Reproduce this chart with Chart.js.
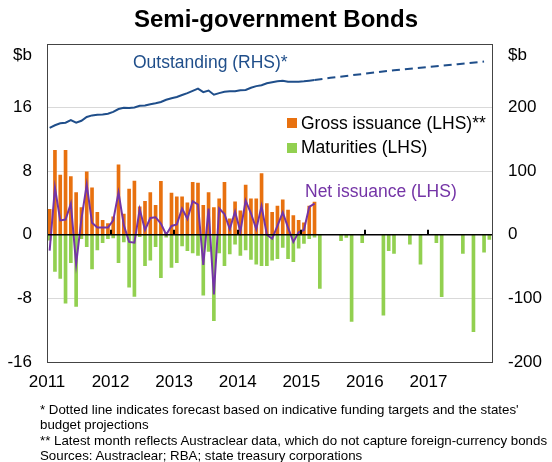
<!DOCTYPE html>
<html>
<head>
<meta charset="utf-8">
<script src="https://cdn.jsdelivr.net/npm/chart.js@4.4.1/dist/chart.umd.min.js"></script>
<style>
  html, body { margin: 0; padding: 0; background: #fff; }
  #wrap { position: relative; width: 552px; height: 462px; }
  #notes {
    position: absolute; left: 40px; top: 402px;
    font: 13.3px "Liberation Sans", Arial, sans-serif;
    line-height: 15.3px; color: #000; white-space: nowrap;
  }
</style>
</head>
<body>
<div id="wrap">
  <canvas id="bondsChart" width="552" height="462"></canvas>
  <div id="notes">
    * Dotted line indicates forecast based on indicative funding targets and the states'<br>
    budget projections<br>
    ** Latest month reflects Austraclear data, which do not capture foreign-currency bonds<br>
    Sources: Austraclear; RBA; state treasury corporations
  </div>
</div>
<script>
// monthly series, first value = Jan 2011
const years = ["2011", "2012", "2013", "2014", "2015", "2016", "2017"];

// gross issuance, $b (LHS), Jan 2011 - Mar 2015
const gross = [
  3.2, 10.6, 7.5, 10.6, 7.3, 5.3, 3.4, 7.9, 5.9, 2.8, 1.8, 1.4,
  2.25, 8.8, 2.6, 5.75, 6.75, 3.5, 4.2, 5.3, 3.7, 6.7, 0.3, 5.25,
  4.75, 4.75, 4.0, 6.6, 6.5, 3.7, 5.3, 3.4, 4.5, 6.6, 2.0, 4.15,
  3.0, 6.25, 4.5, 4.5, 7.7, 3.9, 2.8, 3.6, 4.4, 3.1, 2.4, 1.8,
  1.5, 3.6, 4.1
];

// maturities, $b (LHS), Jan 2011 - Dec 2017
const maturities = [
  -0.7, -4.6, -5.5, -8.6, -3.5, -9.0, -0.5, -1.5, -4.3, -1.9, -1.0, -0.5,
  -0.4, -3.5, -0.9, -6.6, -7.75, -0.25, -3.9, -3.2, -1.5, -5.4, -0.3, -4.1,
  -3.5, -1.4, -2.0, -2.3, -2.6, -7.6, -2.1, -10.8, -2.3, -3.9, -2.4, -1.2,
  -2.6, -1.9, -3.1, -3.7, -3.9, -3.9, -3.2, -3.0, -1.6, -3.0, -3.4, -1.7,
  -1.1, -0.5, -0.3, -6.75, 0, 0, 0, -0.75, -0.35, -10.9, 0, -1.0,
  0, 0, 0, -10.1, -2.0, -2.35, 0, 0, -1.2, 0, -3.7, 0,
  0, -1.0, -7.8, 0, 0, 0, -2.35, 0, -12.2, 0, -2.2, -0.6
];

// net issuance, $b (LHS)
const net = [
  -2.0, 5.9, 1.8, 1.9, 3.9, -3.7, 2.0, 6.3, 1.5, 0.9, 0.9, 0.9,
  1.8, 5.3, 1.2, -0.9, -1.0, 3.2, 0.6, 2.1, 2.2, 1.4, 0, 1.1,
  1.3, 3.3, 2.0, 4.2, 3.8, -3.8, 3.3, -7.5, 3.3, 2.6, 0.7, 2.9,
  0.4, 4.3, 2.7, 0.7, 3.6, 0, -0.5, 1.1, 2.8, 0.9, -0.9, 0.3,
  0.6, 3.5, 3.9
];

// outstanding, $b (RHS)
const outstanding = [
  168, 172, 175, 176, 180, 176, 179, 185, 187.5, 188.5, 189, 190,
  193, 197.5, 199.5, 199, 200, 202.5, 203, 205, 206.5, 208.5, 212, 214.5,
  216.5, 219.5, 222.5, 226, 229.5, 224, 226.5, 220, 222.5, 224.5, 225.5, 225.5,
  227, 227.5, 231, 233.5, 235, 238, 239.5, 241, 242, 240.5, 240.5, 240.5,
  241, 242, 243
];

// forecast of outstanding, $b (RHS)
const forecastMonths = ["2015-03", "2015-06", "2016-06", "2017-06", "2017-11"];
const forecast = [243, 246.5, 258.5, 268, 272];

const ORANGE = "#E8710F";
const GREEN = "#92D050";
const PURPLE = "#7434A6";
const NAVY = "#1F4E8A";
const FONT = "'Liberation Sans', Arial, sans-serif";

const monthIndex = (s) => {
  const [y, m] = s.split("-").map(Number);
  return (y - 2011) * 12 + (m - 1);
};
const monthly = (arr) => arr.map((v, i) => ({ x: i + 0.5, y: v }));

const overlay = {
  id: "overlay",
  afterDatasetsDraw(chart) {
    const { ctx, chartArea: a, scales } = chart;
    const y0 = scales.y.getPixelForValue(0);
    ctx.save();
    // zero line with year marks
    ctx.strokeStyle = "#000";
    ctx.lineWidth = 1.5;
    ctx.beginPath();
    ctx.moveTo(a.left, y0);
    ctx.lineTo(a.right, y0);
    ctx.stroke();
    ctx.lineWidth = 2;
    ctx.beginPath();
    for (let m = 12; m < 84; m += 12) {
      const x = Math.round(scales.x.getPixelForValue(m));
      ctx.moveTo(x, y0);
      ctx.lineTo(x, y0 - 5);
    }
    ctx.stroke();
    // frame
    ctx.strokeStyle = "#444";
    ctx.lineWidth = 1;
    ctx.strokeRect(Math.round(a.left) + 0.5, Math.round(a.top) + 0.5,
      Math.round(a.right - a.left), Math.round(a.bottom - a.top));
    ctx.restore();
  },
  afterDraw(chart) {
    const { ctx, chartArea: a } = chart;
    ctx.save();
    ctx.textBaseline = "middle";
    ctx.font = "17px " + FONT;
    ctx.fillStyle = "#000";
    ctx.textAlign = "right";
    ctx.fillText("$b", a.left - 15, 55);
    ctx.textAlign = "left";
    ctx.fillText("$b", a.right + 16, 55);

    ctx.font = "17.5px " + FONT;
    ctx.fillStyle = NAVY;
    ctx.fillText("Outstanding (RHS)*", 133, 63);
    ctx.fillStyle = PURPLE;
    ctx.fillText("Net issuance (LHS)", 305, 192);

    ctx.fillStyle = ORANGE;
    ctx.fillRect(287, 118, 10, 10);
    ctx.fillStyle = GREEN;
    ctx.fillRect(287, 143, 10, 10);
    ctx.fillStyle = "#000";
    ctx.fillText("Gross issuance (LHS)**", 301, 124);
    ctx.fillText("Maturities (LHS)", 301, 148);
    ctx.restore();
  }
};

new Chart(document.getElementById("bondsChart"), {
  type: "bar",
  data: {
    datasets: [
      {
        type: "line",
        label: "Outstanding",
        data: monthly(outstanding),
        yAxisID: "y2",
        borderColor: NAVY,
        borderWidth: 2,
        pointRadius: 0,
        tension: 0,
        order: 0,
      },
      {
        type: "line",
        label: "Outstanding forecast",
        data: forecastMonths.map((m, i) => ({ x: monthIndex(m) + 0.5, y: forecast[i] })),
        yAxisID: "y2",
        borderColor: NAVY,
        borderWidth: 2,
        borderDash: [8, 5],
        pointRadius: 0,
        tension: 0,
        order: 0,
      },
      {
        type: "line",
        label: "Net issuance",
        data: monthly(net),
        yAxisID: "y",
        borderColor: PURPLE,
        borderWidth: 2,
        pointRadius: 0,
        tension: 0,
        order: 0,
      },
      {
        label: "Gross issuance",
        data: monthly(gross),
        yAxisID: "y",
        backgroundColor: ORANGE,
        barThickness: 3,
        grouped: false,
        order: 1,
      },
      {
        label: "Maturities",
        data: monthly(maturities).filter((p) => p.y !== 0),
        yAxisID: "y",
        backgroundColor: GREEN,
        barThickness: 3,
        grouped: false,
        order: 1,
      },
    ],
  },
  options: {
    responsive: false,
    animation: false,
    layout: { padding: 0 },
    plugins: {
      legend: { display: false },
      tooltip: { enabled: false },
      title: {
        display: true,
        text: "Semi-government Bonds",
        color: "#000",
        font: { family: FONT, size: 24, weight: "bold" },
        padding: { top: 6, bottom: 9 },
      },
    },
    scales: {
      x: {
        type: "linear",
        min: 0,
        max: 84,
        offset: false,
        grid: { display: false, drawTicks: false },
        border: { display: false },
        afterBuildTicks: (s) => {
          s.ticks = years.map((_, i) => ({ value: i * 12 }));
        },
        ticks: {
          callback: (v) => years[v / 12],
          color: "#000",
          font: { family: FONT, size: 17 },
          padding: 10,
          maxRotation: 0,
          autoSkip: false,
        },
        afterFit: (s) => { s.height = 100; },
      },
      y: {
        position: "left",
        min: -16,
        max: 24,
        grid: {
          drawTicks: false,
          lineWidth: 1,
          color: (c) => ([16, 8, -8].includes(c.tick.value) ? "#d9d9d9" : "rgba(0,0,0,0)"),
        },
        border: { display: false },
        ticks: {
          stepSize: 8,
          padding: 15,
          color: "#000",
          font: { family: FONT, size: 17 },
          callback: (v) => (v === 24 ? "" : v),
        },
        afterFit: (s) => { s.width = 47; },
      },
      y2: {
        position: "right",
        min: -200,
        max: 300,
        grid: { display: false, drawTicks: false },
        border: { display: false },
        ticks: {
          stepSize: 100,
          padding: 16,
          color: "#000",
          font: { family: FONT, size: 17 },
          callback: (v) => (v === 300 ? "" : v),
        },
        afterFit: (s) => { s.width = 60; },
      },
    },
  },
  plugins: [overlay],
});
</script>
</body>
</html>
